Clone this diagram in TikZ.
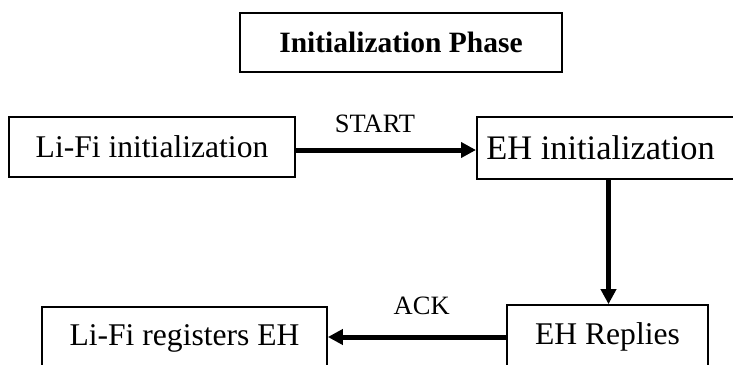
\documentclass[tikz,border=0pt]{standalone}
\usepackage{fontspec}
\setmainfont{Liberation Serif}
\usetikzlibrary{arrows.meta}
\tikzset{
  boxnode/.style={draw=black, line width=1.7pt, inner sep=0pt, align=center,
    font=\fontsize{31.6}{36}\selectfont},
  lbl/.style={anchor=base, inner sep=0pt, font=\fontsize{26.5}{30}\selectfont},
  arr/.style={line width=5pt, -{Triangle[length=15pt,width=15pt]}},
}
\begin{document}
\begin{tikzpicture}[x=1pt,y=-1pt]
\useasboundingbox (0,0) rectangle (733,364);
\fill[white] (0,0) rectangle (733,364);
\node[boxnode, line width=2pt, minimum width=322pt, minimum height=59pt,
  font=\fontsize{29.5}{34}\selectfont\bfseries] (title) at (401,42.5) {Initialization Phase};
\node[boxnode, minimum width=286pt, minimum height=60pt] (lifi) at (152,147) {Li-Fi initialization};
\node[boxnode, line width=2pt, minimum width=263pt, minimum height=62pt,
  font=\fontsize{34.4}{40}\selectfont] (ehinit) at (608.5,148) {EH initialization\hspace*{16pt}};
\node[boxnode, minimum width=201pt, minimum height=64pt] (ehrep) at (607.5,337) {EH Replies};
\node[boxnode, minimum width=285pt, minimum height=62pt] (lireg) at (184.5,338) {Li-Fi registers EH};
\draw[arr] ([yshift=-3pt]lifi.east) -- ([yshift=-3pt]lifi.east -| ehinit.west);
\node[lbl] (start) at (375,132.3) {START};
\draw[arr] (ehinit.south) -- (ehinit.south |- ehrep.north);
\draw[arr] (ehrep.west) -- (ehrep.west -| lireg.east);
\node[lbl] (ack) at (421.7,314) {ACK};
\end{tikzpicture}
\end{document}
